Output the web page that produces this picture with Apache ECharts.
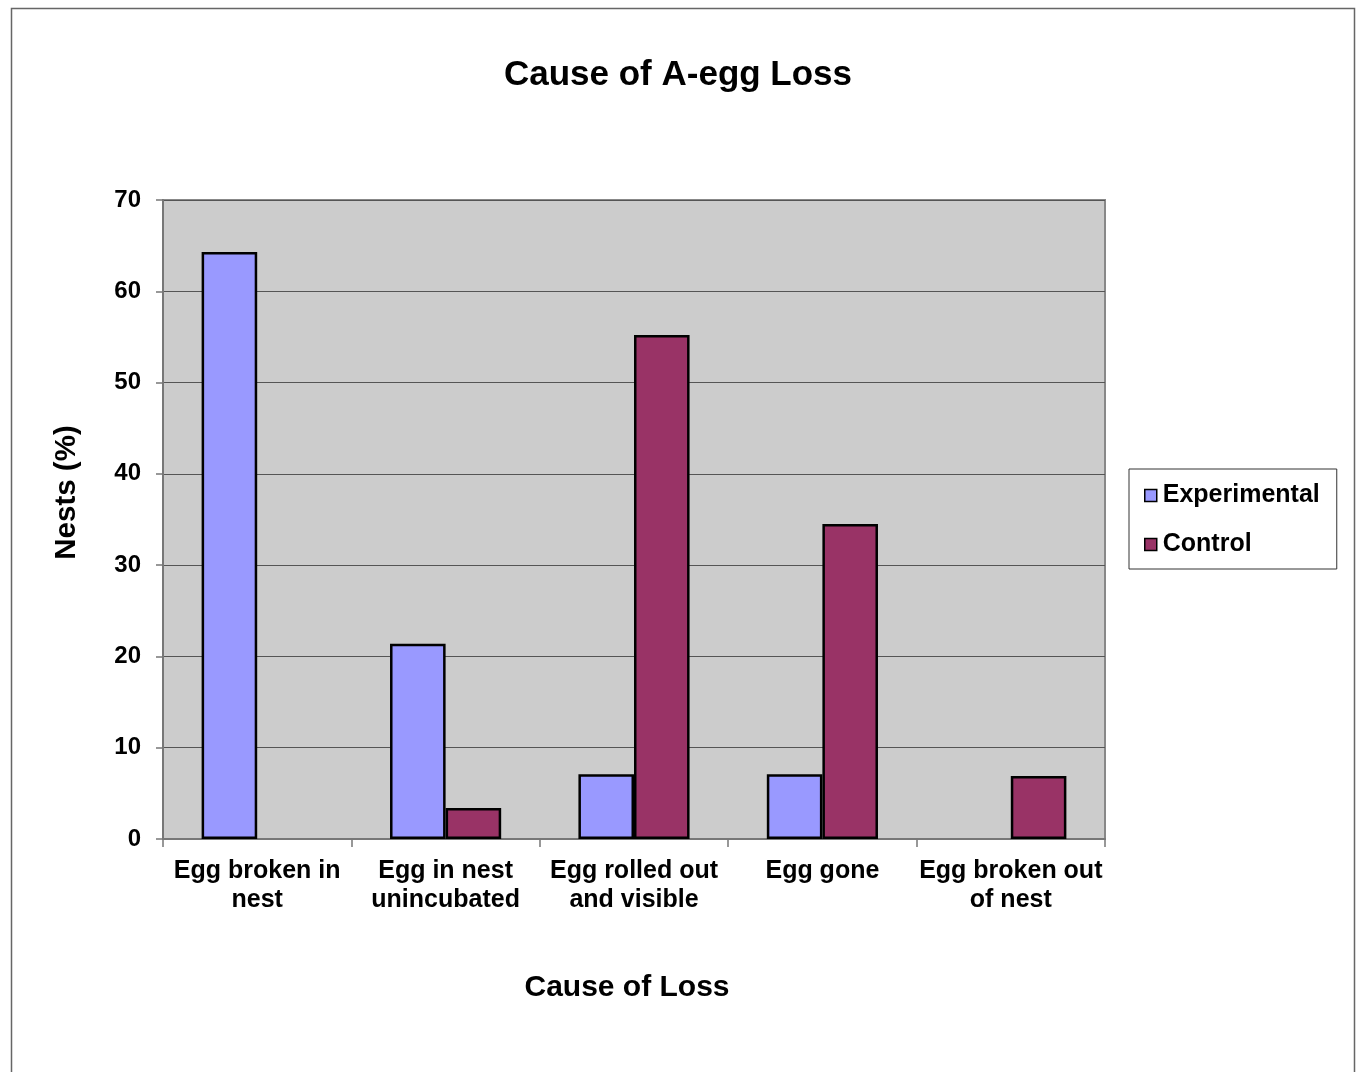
<!DOCTYPE html>
<html>
<head>
<meta charset="utf-8">
<title>Cause of A-egg Loss</title>
<script src="https://cdn.jsdelivr.net/npm/echarts@6/dist/echarts.min.js"></script>
<style>
  html, body { margin: 0; padding: 0; background: #fff; }
  #chart { width: 1356px; height: 1072px; }
</style>
</head>
<body>
<div id="chart"></div>
<script>
// Causes of loss along the x axis
const categories = [
  'Egg broken in\nnest',
  'Egg in nest\nunincubated',
  'Egg rolled out\nand visible',
  'Egg gone',
  'Egg broken out\nof nest'
];
// Percentage of nests per cause (null = no bar)
const experimental = [64.3, 21.4, 7.1, 7.1, null];
const control = [null, 3.4, 55.2, 34.5, 6.9];
const yTicks = { min: 0, max: 70, interval: 10 };

const FONT = '"Liberation Sans", Arial, sans-serif';

const chart = echarts.init(document.getElementById('chart'), null, { renderer: 'canvas' });

chart.setOption({
  backgroundColor: '#ffffff',
  animation: false,
  title: {
    text: 'Cause of A-egg Loss',
    left: 'center',
    top: 53,
    textStyle: { fontFamily: FONT, fontSize: 35, fontWeight: 'bold', color: '#000' }
  },
  graphic: [{
    type: 'rect',
    shape: { x: 11.5, y: 8.5, width: 1343, height: 1080 },
    style: { fill: 'none', stroke: '#666', lineWidth: 1.5 },
    silent: true,
    z: -1
  }],
  legend: {
    orient: 'vertical',
    left: 1129,
    top: 469,
    padding: [14, 17, 12, 15],
    itemGap: 24,
    itemWidth: 12,
    itemHeight: 12,
    borderColor: '#333',
    borderWidth: 1,
    backgroundColor: '#fff',
    icon: 'rect',
    itemStyle: { borderColor: '#000', borderWidth: 1.5 },
    textStyle: { fontFamily: FONT, fontSize: 25, fontWeight: 'bold', color: '#000', padding: [0, 0, 0, 1] },
    data: ['Experimental', 'Control']
  },
  grid: {
    left: 163,
    top: 200,
    right: 251,
    bottom: 233,
    show: true,
    backgroundColor: '#cccccc',
    borderColor: '#888',
    borderWidth: 2
  },
  xAxis: {
    type: 'category',
    data: categories,
    name: 'Cause of Loss',
    nameLocation: 'middle',
    nameGap: 134,
    nameTextStyle: {
      fontFamily: FONT, fontSize: 30, fontWeight: 'bold', color: '#000',
      padding: [0, 14, 0, 0]
    },
    axisLine: { show: true, lineStyle: { color: '#777', width: 2 } },
    axisTick: { show: true, alignWithLabel: false, length: 8, lineStyle: { color: '#777', width: 1.5 } },
    axisLabel: {
      fontFamily: FONT, fontSize: 25, fontWeight: 'bold', color: '#000',
      lineHeight: 29, margin: 18, interval: 0
    },
    splitLine: { show: false }
  },
  yAxis: {
    type: 'value',
    min: yTicks.min,
    max: yTicks.max,
    interval: yTicks.interval,
    name: 'Nests (%)',
    nameLocation: 'middle',
    nameGap: 81,
    nameRotate: 90,
    nameTextStyle: {
      fontFamily: FONT, fontSize: 29.5, fontWeight: 'bold', color: '#000',
      padding: [0, 0, 0, 54]
    },
    axisLine: { show: true, lineStyle: { color: '#777', width: 2 } },
    axisTick: { show: true, inside: false, length: 7, lineStyle: { color: '#777', width: 1.5 } },
    axisLabel: { fontFamily: FONT, fontSize: 24, fontWeight: 'bold', color: '#000', margin: 22 },
    splitLine: { show: true, lineStyle: { color: '#555', width: 1 } }
  },
  series: [
    {
      name: 'Experimental',
      type: 'bar',
      data: experimental,
      barGap: '0%',
      barCategoryGap: '41%',
      itemStyle: { color: '#9999ff', borderColor: '#000', borderWidth: 2.5 }
    },
    {
      name: 'Control',
      type: 'bar',
      data: control,
      barGap: '0%',
      barCategoryGap: '41%',
      itemStyle: { color: '#993366', borderColor: '#000', borderWidth: 2.5 }
    }
  ]
});
</script>
</body>
</html>
